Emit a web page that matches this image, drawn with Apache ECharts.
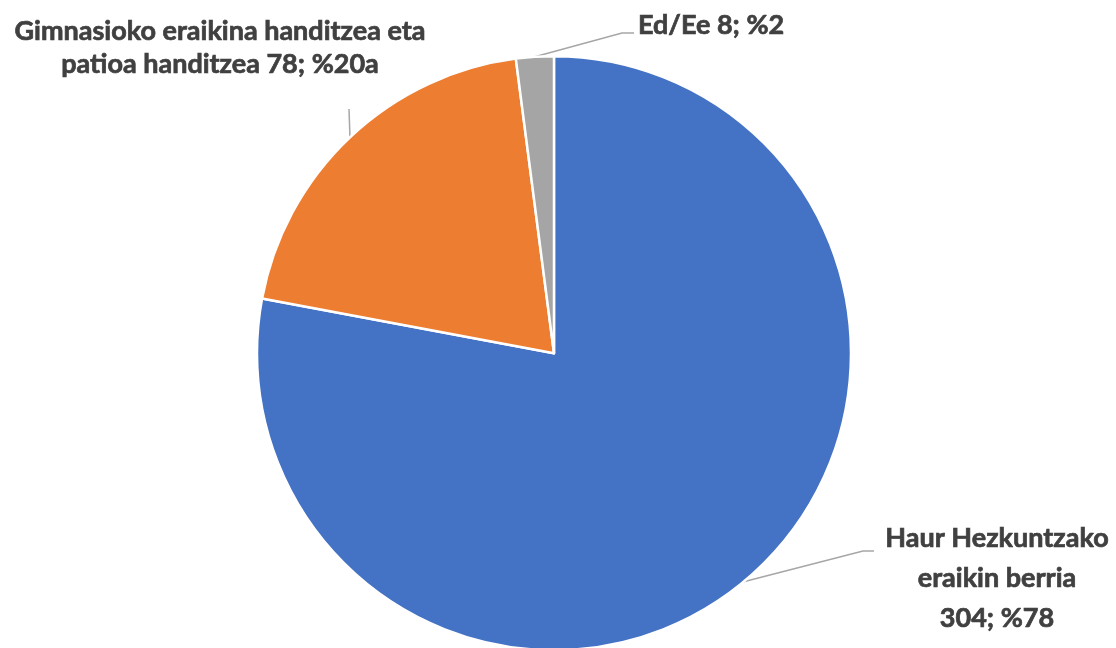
<!DOCTYPE html>
<html>
<head>
<meta charset="utf-8">
<script src="https://cdn.jsdelivr.net/npm/echarts@6/dist/echarts.min.js"></script>
<style>html,body{margin:0;padding:0;background:#fff;}#c{width:1116px;height:648px;}</style>
</head>
<body>
<div id="c"></div>
<script>
const categories = ["Haur Hezkuntzako eraikin berria", "Gimnasioko eraikina handitzea eta patioa handitzea", "Ed/Ee"];
const values = [304, 78, 8];
const labelTexts = ["Haur Hezkuntzako\neraikin berria\n304; %78", "Gimnasioko eraikina handitzea eta\npatioa handitzea 78; %20a", "Ed/Ee 8; %2"];
const colors = ["#4472C4", "#ED7D31", "#A5A5A5"];

const chart = echarts.init(document.getElementById('c'));
// label anchor layout
const labelPos = [
  {x: 997, y: 578, align: 'center', lh: 40, elbow: [[863, 551], [874, 551]]},
  {x: 220, y: 48, align: 'center', lh: 33, elbow: [[349, 109]]},
  {x: 638, y: 25, align: 'left', lh: 33, elbow: [[622, 33], [634, 33]]}
];
chart.setOption({
  animation: false,
  series: [{
    type: 'pie',
    center: ['49.64%', '54.5%'],
    radius: 297,
    startAngle: 90,
    clockwise: true,
    itemStyle: {borderColor: '#fff', borderWidth: 2.5},
    label: {
      show: true,
      position: 'outside',
      color: '#404040',
      fontFamily: 'Lato',
      fontWeight: 'bold',
      fontSize: 27,
      textBorderColor: '#404040',
      textBorderWidth: 0.7,
      overflow: 'none',
      width: 600,
      align: 'center',
      formatter: p => labelTexts[p.dataIndex]
    },
    labelLine: {show: true, lineStyle: {color: '#A6A6A6', width: 1.5}, length: 20, length2: 10},
    labelLayout: function (params) {
      const lp = labelPos[params.dataIndex];
      const start = params.labelLinePoints ? params.labelLinePoints[0] : null;
      return {
        x: lp.x,
        y: lp.y,
        align: lp.align,
        verticalAlign: 'middle',
        labelLinePoints: start ? [start].concat(lp.elbow) : undefined
      };
    },
    data: categories.map((c, i) => ({
      name: c, value: values[i],
      itemStyle: {color: colors[i]},
      label: {lineHeight: labelPos[i].lh}
    }))
  }]
});
</script>
</body>
</html>
